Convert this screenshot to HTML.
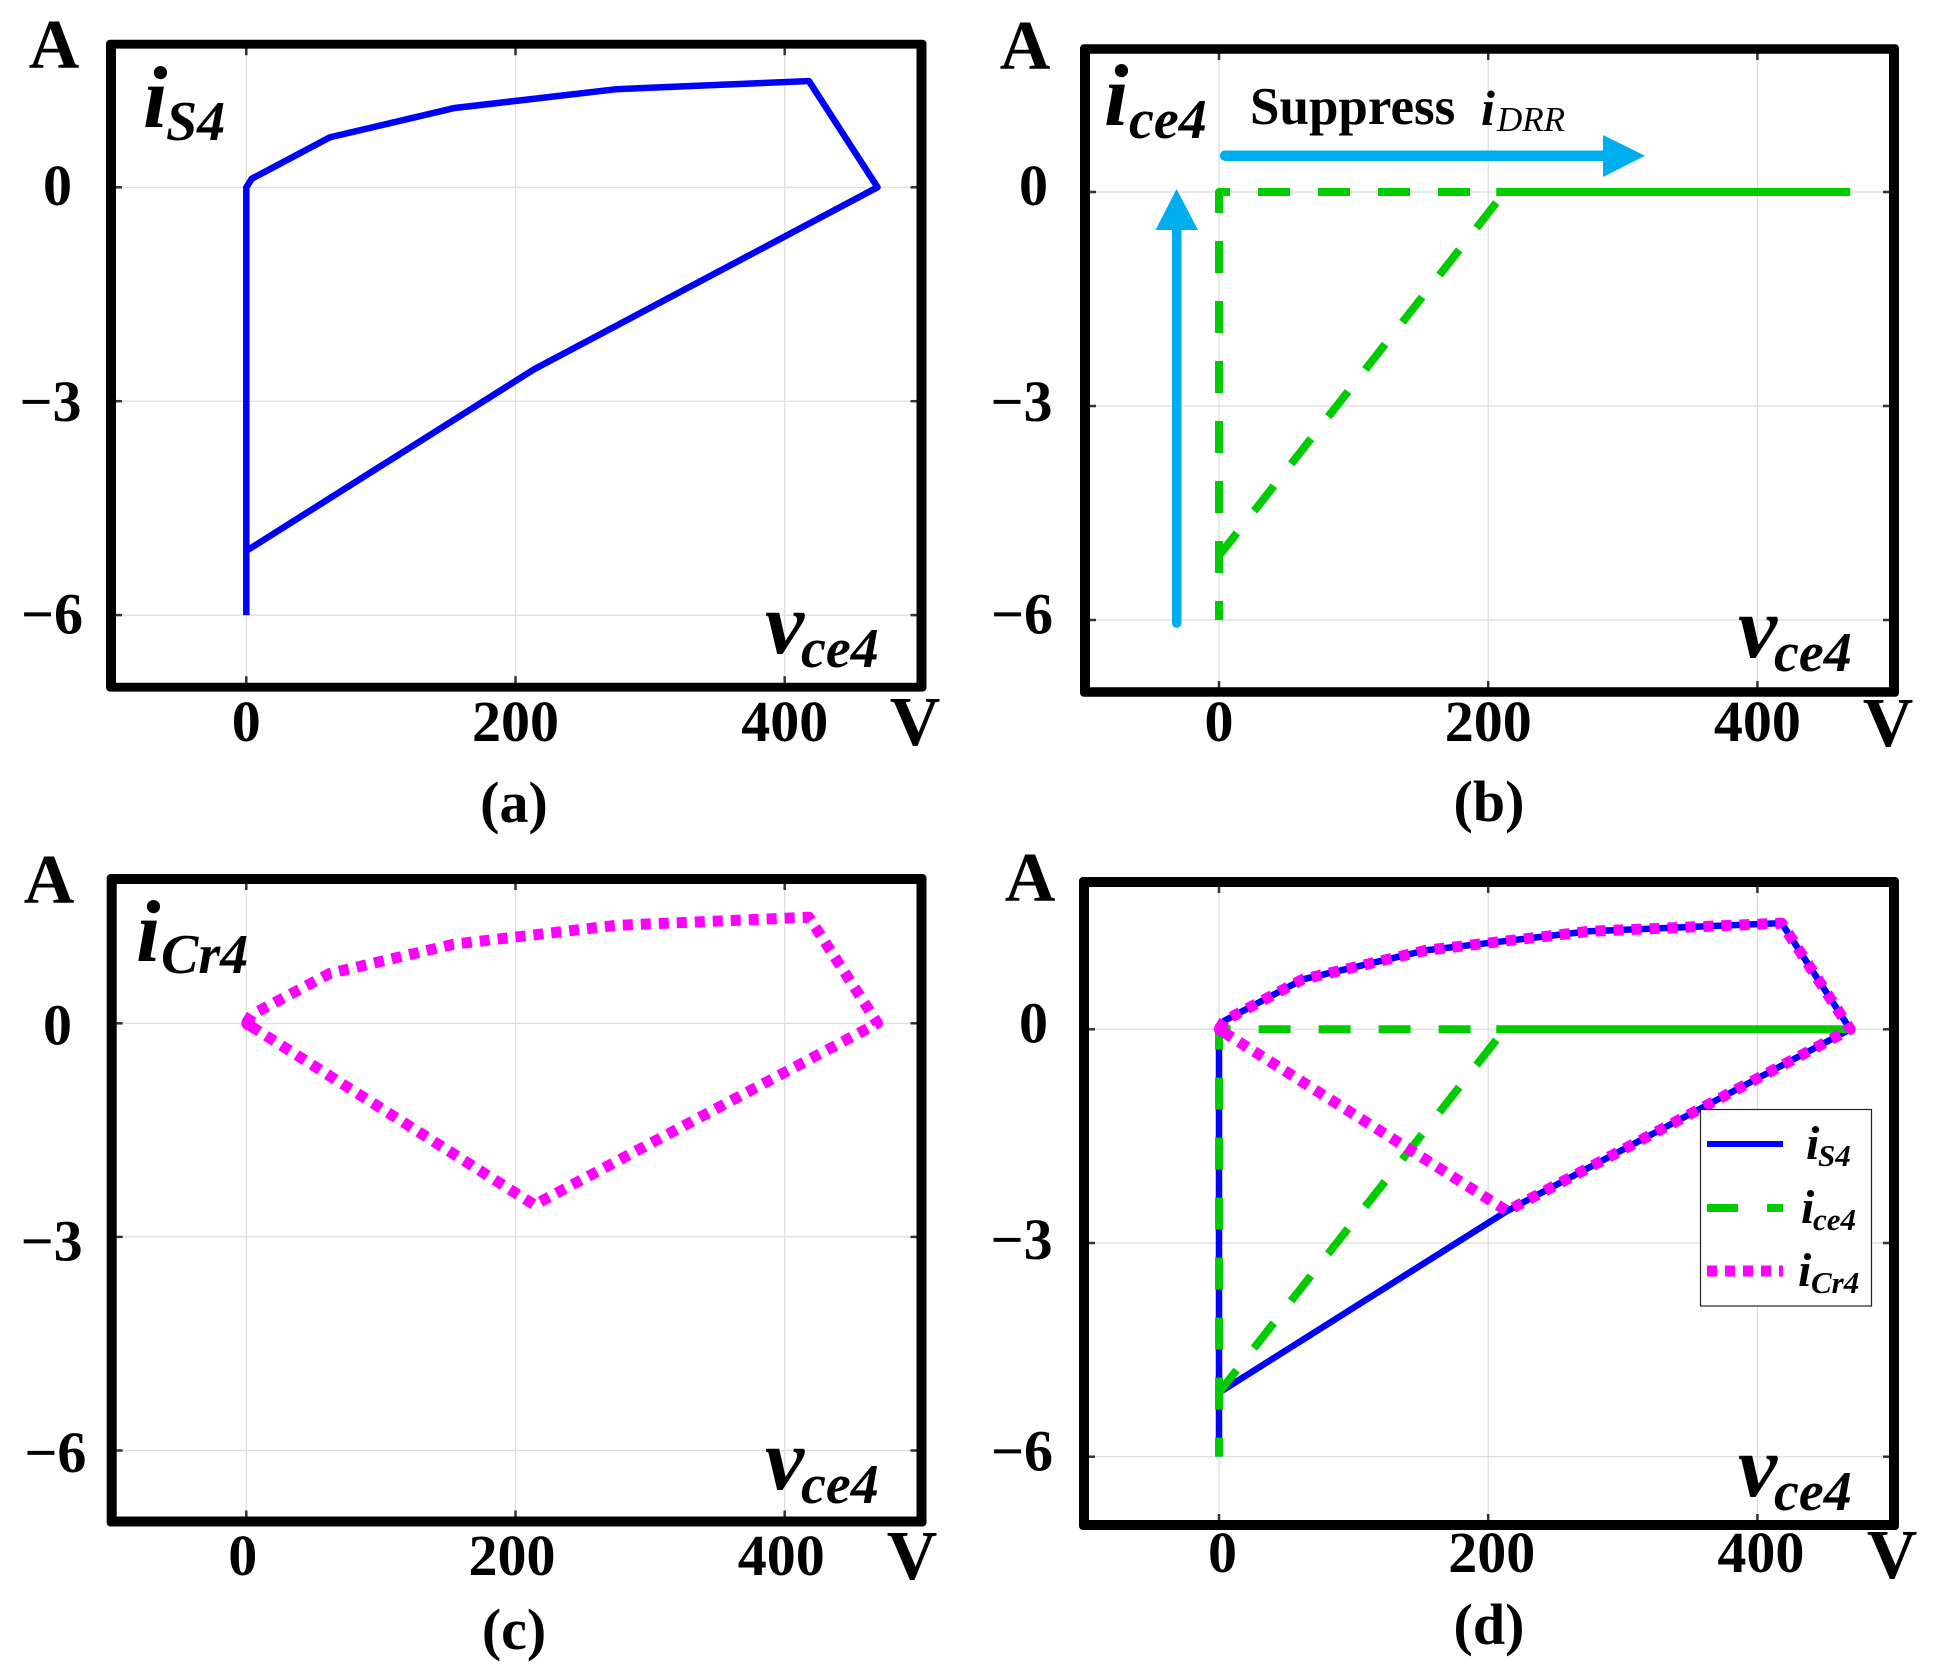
<!DOCTYPE html>
<html lang="en">
<head>
<meta charset="utf-8">
<title>Switching trajectories i-v</title>
<style>
html,body{margin:0;padding:0;background:#fff;}
svg{display:block;}
text{font-family:"Liberation Serif",serif;fill:#000;}
.tk{font-weight:700;font-size:58px;}
.unit{font-weight:700;font-size:70px;text-anchor:middle;}
.cap{font-weight:700;font-size:58px;text-anchor:middle;}
.big{font-weight:700;font-style:italic;font-size:88px;}
.sub{font-weight:700;font-style:italic;font-size:56px;}
.lg{font-weight:700;font-style:italic;font-size:48px;}
.lgs{font-weight:700;font-style:italic;font-size:31px;}
</style>
</head>
<body>
<svg id="chart" xmlns="http://www.w3.org/2000/svg" width="1936" height="1673" viewBox="0 0 1936 1673">
<rect width="1936" height="1673" fill="#fff"/>
<g id="plots"></g>

<g>
<text class="unit" x="54" y="68">A</text>
<text class="unit" x="915" y="745">V</text>
<text class="cap" x="514" y="822">(a)</text>
<text class="big" x="143" y="127">i</text>
<text class="sub" x="166" y="140">S4</text>
<text class="big" x="765" y="653">v</text>
<text class="sub" x="801" y="667">ce4</text>
</g>

<g>
<text class="unit" x="1025" y="69">A</text>
<text class="unit" x="1888" y="746">V</text>
<text class="cap" x="1489" y="821">(b)</text>
<text class="big" x="1104" y="125">i</text>
<text class="sub" x="1129" y="138">ce4</text>
<text x="1250" y="124" font-size="53" font-weight="700">Suppress</text>
<text x="1481" y="125" font-size="50" font-weight="700" font-style="italic">i</text>
<text x="1497" y="131" font-size="35" font-style="italic">DRR</text>
<text class="big" x="1738" y="657">v</text>
<text class="sub" x="1774" y="671">ce4</text>
<path d="M1225 150.500H1603V135L1645 155.700L1603 177V161H1225Z" fill="#00aeef"/>
<circle cx="1225" cy="155.700" r="5.200" fill="#00aeef"/>
<path d="M1172 624V230H1155.500L1176.600 189L1198 230H1181.500V624Z" fill="#00aeef"/>
<circle cx="1176.700" cy="623" r="4.800" fill="#00aeef"/>
</g>

<g>
<text class="unit" x="49" y="903">A</text>
<text class="unit" x="912" y="1579">V</text>
<text class="cap" x="514" y="1649">(c)</text>
<text class="big" x="136" y="961">i</text>
<text class="sub" x="161" y="973">Cr4</text>
<text class="big" x="765" y="1489">v</text>
<text class="sub" x="801" y="1503">ce4</text>
</g>

<g>
<text class="unit" x="1030" y="901">A</text>
<text class="unit" x="1892" y="1578">V</text>
<text class="cap" x="1489" y="1644">(d)</text>
<text class="big" x="1738" y="1496">v</text>
<text class="sub" x="1774" y="1510">ce4</text>
</g>

<g>
<rect x="1700.500" y="1109.500" width="171" height="196.500" fill="#fff" stroke="#222" stroke-width="1.200"/>
<line x1="1707" x2="1783" y1="1144" y2="1144" stroke="#0000ff" stroke-width="6"/>
<text class="lg" x="1806" y="1159">i</text>
<text class="lgs" x="1818" y="1166">S4</text>
<line x1="1707" x2="1783" y1="1208" y2="1208" stroke="#00cc00" stroke-width="8" stroke-dasharray="31 29"/>
<text class="lg" x="1801" y="1223">i</text>
<text class="lgs" x="1813" y="1230">ce4</text>
<line x1="1707" x2="1783" y1="1271" y2="1271" stroke="#ff00ff" stroke-width="11" stroke-dasharray="10 8"/>
<text class="lg" x="1798" y="1286">i</text>
<text class="lgs" x="1811" y="1293">Cr4</text>
</g>
</svg>

<script>
// ---- data (volts, amps) ----
const xTicks = [0, 200, 400];
const yTicks = [0, -3, -6];
const xLabels = ['0', '200', '400'];
const yLabels = ['0', '\u22123', '\u22126'];

const is4V = [0, 0, 4, 62, 154, 275, 418, 469, 214, 0];
const is4A = [-6, 0, 0.12, 0.7, 1.11, 1.376, 1.49, 0, -2.55, -5.1];

const iceDashV = [0, 0, 206];
const iceDashA = [-6, 0, 0];
const iceSolidV = [206, 469];
const iceSolidA = [0, 0];
const iceDiagV = [206, 0];
const iceDiagA = [-0.15, -5.1];

const icrV = [0, 4, 62, 154, 275, 418, 469, 214, 0];
const icrA = [0, 0.12, 0.7, 1.11, 1.376, 1.49, 0, -2.55, 0];

// ---- layout of each panel: axis origin/scale and frame box ----
const panels = [
  {id:'a', x0:246.3, kx:1.346, y0:187.3, ky:71.3, l:111, r:921.500, t:44.200, b:687.200, hh:4.400, tickDx:0, yEnds:[72,81.500,83], yDy:[17.500,20,18.500], xBase:741, series:['blue']},
  {id:'b', x0:1219, kx:1.346, y0:192, ky:71.33, l:1085, r:1894, t:49, b:692, hh:4.800, tickDx:0, yEnds:[1048,1052.500,1053], yDy:[13,15,13.500], xBase:741, series:['green']},
  {id:'c', x0:246.3, kx:1.346, y0:1023.3, ky:71.2, l:111.700, r:921.500, t:879, b:1521.500, hh:5, tickDx:-3.500, yEnds:[72,82.700,86.400], yDy:[21,23.500,21.700], xBase:1575, series:['magenta']},
  {id:'d', x0:1219, kx:1.346, y0:1029.3, ky:71.23, l:1084, r:1894, t:882, b:1525, hh:5, tickDx:3.500, yEnds:[1048,1052.600,1053], yDy:[13,16,14], xBase:1572, series:['blue','green','magenta']}
];

const NS = 'http://www.w3.org/2000/svg';
const plots = document.getElementById('plots');

function mk(parent, tag, attrs, name) {
  const el = document.createElementNS(NS, tag);
  for (const k in attrs) el.setAttribute(k, attrs[k]);
  
  
  parent.appendChild(el);
  return el;
}

function ptsOf(vs, as, sx, sy) {
  return vs.map(function (v, i) { return sx(v).toFixed(2) + ',' + sy(as[i]).toFixed(2); }).join(' ');
}

panels.forEach(function (p) {
  const sx = function (v) { return p.x0 + v * p.kx; };
  const sy = function (a) { return p.y0 - a * p.ky; };
  const g = mk(plots, 'g', {}, 'panel-' + p.id);

  // grid + ticks
  xTicks.forEach(function (v, i) {
    const x = sx(v);
    mk(g, 'line', {x1:x, x2:x, y1:p.t, y2:p.b, stroke:'#dcdcdc', 'stroke-width':1.200}, 'x-gridline-' + p.id + '-' + v);
    mk(g, 'line', {x1:x, x2:x, y1:p.t + 4, y2:p.t + 11, stroke:'#333', 'stroke-width':2.500}, 'x-tick-top-' + p.id + '-' + v);
    mk(g, 'line', {x1:x, x2:x, y1:p.b - 11, y2:p.b - 4, stroke:'#333', 'stroke-width':2.500}, 'x-tick-bottom-' + p.id + '-' + v);
    const t = mk(g, 'text', {x:x + p.tickDx, y:p.xBase, 'text-anchor':'middle', 'class':'tk'}, 'x-tick-label-' + p.id + '-' + v);
    t.textContent = xLabels[i];
  });
  yTicks.forEach(function (a, i) {
    const y = sy(a);
    mk(g, 'line', {x1:p.l, x2:p.r, y1:y, y2:y, stroke:'#dcdcdc', 'stroke-width':1.200}, 'y-gridline-' + p.id + '-' + i);
    mk(g, 'line', {x1:p.l + 5, x2:p.l + 11, y1:y, y2:y, stroke:'#333', 'stroke-width':2.500}, 'y-tick-left-' + p.id + '-' + i);
    mk(g, 'line', {x1:p.r - 11, x2:p.r - 5, y1:y, y2:y, stroke:'#333', 'stroke-width':2.500}, 'y-tick-right-' + p.id + '-' + i);
    const t = mk(g, 'text', {x:p.yEnds[i], y:y + p.yDy[i], 'text-anchor':'end', 'class':'tk'}, 'y-tick-label-' + p.id + '-' + i);
    t.textContent = yLabels[i];
  });

  // series
  if (p.series.indexOf('blue') >= 0) {
    mk(g, 'polyline', {points:ptsOf(is4V, is4A, sx, sy), fill:'none', stroke:'#0000ff', 'stroke-width':6.500, 'stroke-linejoin':'round'}, 'series-is4-' + p.id);
  }
  if (p.series.indexOf('green') >= 0) {
    mk(g, 'polyline', {points:ptsOf(iceDashV, iceDashA, sx, sy), fill:'none', stroke:'#00cc00', 'stroke-width':8, 'stroke-dasharray':'32 28', 'stroke-dashoffset':13, 'stroke-linejoin':'round'}, 'series-ice4-dashed-' + p.id);
    mk(g, 'polyline', {points:ptsOf(iceSolidV, iceSolidA, sx, sy), fill:'none', stroke:'#00cc00', 'stroke-width':8}, 'series-ice4-solid-' + p.id);
    mk(g, 'polyline', {points:ptsOf(iceDiagV, iceDiagA, sx, sy), fill:'none', stroke:'#00cc00', 'stroke-width':8, 'stroke-dasharray':'32 28'}, 'series-ice4-diagonal-' + p.id);
  }
  if (p.series.indexOf('magenta') >= 0) {
    mk(g, 'polyline', {points:ptsOf(icrV, icrA, sx, sy), fill:'none', stroke:'#ff00ff', 'stroke-width':11, 'stroke-dasharray':'10 8', 'stroke-linejoin':'round'}, 'series-icr4-' + p.id);
    mk(g, 'circle', {cx:sx(icrV[0]) + 2, cy:sy(icrA[0]), r:7, fill:'#ff00ff'}, 'series-icr4-start-' + p.id);
  }

  // frame: vertical bars 10px thick, horizontal bars per panel
  const r = 4;
  const L = p.l - 5, R = p.r + 5, T = p.t - p.hh, B = p.b + p.hh;
  const d = 'M' + (L + r) + ' ' + T + 'H' + (R - r) + 'A' + r + ' ' + r + ' 0 0 1 ' + R + ' ' + (T + r) +
            'V' + (B - r) + 'A' + r + ' ' + r + ' 0 0 1 ' + (R - r) + ' ' + B +
            'H' + (L + r) + 'A' + r + ' ' + r + ' 0 0 1 ' + L + ' ' + (B - r) +
            'V' + (T + r) + 'A' + r + ' ' + r + ' 0 0 1 ' + (L + r) + ' ' + T + 'Z' +
            'M' + (p.l + 5) + ' ' + (p.t + p.hh) + 'V' + (p.b - p.hh) + 'H' + (p.r - 5) + 'V' + (p.t + p.hh) + 'Z';
  mk(g, 'path', {d:d, fill:'#000', 'fill-rule':'evenodd'}, 'frame-' + p.id);
});
</script>
</body>
</html>
